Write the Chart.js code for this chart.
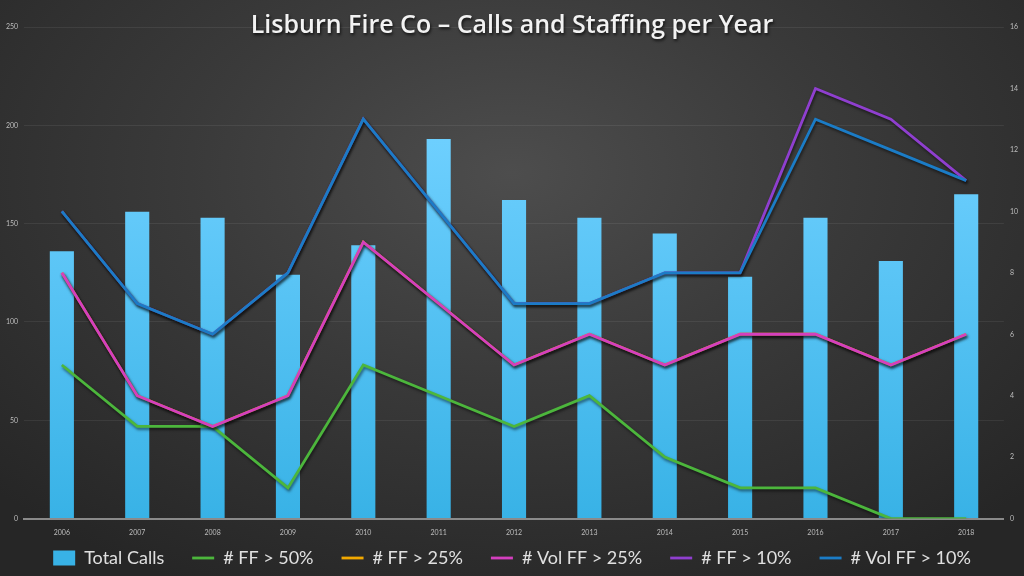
<!DOCTYPE html>
<html>
<head>
<meta charset="utf-8">
<script src="https://cdn.jsdelivr.net/npm/chart.js@4"></script>
<style>
  html, body { margin:0; padding:0; }
  body {
    width:1024px; height:576px; overflow:hidden; position:relative;
    background: radial-gradient(ellipse 70% 80% at 50% 30%, #4d4d4d 0%, #3a3a3a 45%, #262626 100%);
  }
  #title {
    position:absolute; left:0; top:6px; width:1024px; text-align:center;
    font-family:'Open Sans', sans-serif; font-weight:600; font-size:25px; color:#f2f2f2;
    text-shadow: 1px 2px 3px rgba(0,0,0,.7); z-index:2; pointer-events:none;
  }
  #wrap { position:absolute; left:0; top:0; width:1024px; height:576px; }
</style>
</head>
<body>
<div id="title">Lisburn Fire Co – Calls and Staffing per Year</div>
<div id="wrap"><canvas id="c"></canvas></div>
<script>
/* ── data ── */
const YEARS = ['2006','2007','2008','2009','2010','2011','2012','2013','2014','2015','2016','2017','2018'];
const TOTAL_CALLS = [136,156,153,124,139,193,162,153,145,123,153,131,165];
const FF_50     = [5,3,3,1,5,4,3,4,2,1,1,0,0];
const FF_25     = [8,4,3,4,9,7,5,6,5,6,6,5,6];
const VOL_FF_25 = [8,4,3,4,9,7,5,6,5,6,6,5,6];
const FF_10     = [10,7,6,8,13,10,7,7,8,8,14,13,11];
const VOL_FF_10 = [10,7,6,8,13,10,7,7,8,8,13,12,11];
const LEFT_TICKS  = [0,50,100,150,200,250];
const RIGHT_TICKS = [0,2,4,6,8,10,12,14,16];

const LEGEND_PAD = 28;     // horizontal gap between legend items
const LEGEND_BOX_H = 37;   // space the legend takes in the layout
const LEGEND_SHIFT = 18;   // draw legend this much higher than its box

/* ── line shadow ── */
const shadowPlugin = {
  id:'lineShadow',
  beforeDatasetDraw(chart, args) {
    const ctx = chart.ctx;
    ctx.save();
    if (args.meta.type === 'line') {
      ctx.shadowColor = 'rgba(0,0,0,.55)';
      ctx.shadowBlur = 3;
      ctx.shadowOffsetX = 1;
      ctx.shadowOffsetY = 2;
    }
  },
  afterDatasetDraw(chart) { chart.ctx.restore(); }
};

/* ── compact legend: keep wide item gaps but small vertical footprint ── */
const legendFit = {
  id:'legendFit',
  beforeInit(chart) {
    const lg = chart.legend;
    const orig = lg.fit;
    lg.fit = function() { orig.call(this); this.height = LEGEND_BOX_H; };
  },
  afterLayout(chart) { chart.legend.top -= LEGEND_SHIFT; }
};

function barGrad(context) {
  const { chart } = context;
  const a = chart.chartArea;
  if (!a) return '#4fc3f7';
  const g = chart.ctx.createLinearGradient(0, a.top + 100, 0, a.bottom);
  g.addColorStop(0, '#6fd0ff');
  g.addColorStop(1, '#38b2e6');
  return g;
}

const lineDs = (label, data, color, order) => ({
  type:'line', label, data, yAxisID:'y1', borderColor:color, backgroundColor:color,
  borderWidth:2.8, pointRadius:0, tension:0, pointStyle:'line', order
});

const tickFont = { family:'Lato', size:7 };

new Chart(document.getElementById('c'), {
  data:{
    labels: YEARS,
    datasets:[
      { type:'bar', label:'Total Calls', data:TOTAL_CALLS, yAxisID:'y', backgroundColor:barGrad,
        barPercentage:0.32, categoryPercentage:1, pointStyle:'rect', order:10 },
      lineDs('# FF > 50%', FF_50, '#4cb63c', 5),
      lineDs('# FF > 25%', FF_25, '#f2a900', 4),
      lineDs('# Vol FF > 25%', VOL_FF_25, '#d43fbf', 3),
      lineDs('# FF > 10%', FF_10, '#8f3fcf', 2),
      lineDs('# Vol FF > 10%', VOL_FF_10, '#1b7cc6', 1)
    ]
  },
  options:{
    responsive:true, maintainAspectRatio:false, animation:false,
    layout:{ padding:{ top:27, left:0, right:0, bottom:0 } },
    plugins:{
      title:{ display:false },
      tooltip:{ enabled:false },
      legend:{
        position:'bottom',
        labels:{
          sort:(a,b)=>a.datasetIndex-b.datasetIndex,
          usePointStyle:true, pointStyleWidth:22, boxHeight:15,
          color:'#e0e0e0', font:{ family:'Lato', size:18 }, padding:LEGEND_PAD
        }
      }
    },
    scales:{
      x:{
        grid:{ display:false },
        border:{ color:'#8a8a8a', width:2 },
        ticks:{ color:'#bdbdbd', font:tickFont, padding:2 }
      },
      y:{
        position:'left', min:0, max:250,
        afterBuildTicks: ax => { ax.ticks = LEFT_TICKS.map(v=>({value:v})); },
        grid:{ color:'rgba(255,255,255,.07)', drawTicks:false },
        border:{ display:false },
        ticks:{ color:'#bdbdbd', font:tickFont, padding:6 }
      },
      y1:{
        position:'right', min:0, max:16,
        afterBuildTicks: ax => { ax.ticks = RIGHT_TICKS.map(v=>({value:v})); },
        grid:{ display:false, drawTicks:false },
        border:{ display:false },
        ticks:{ color:'#bdbdbd', font:tickFont, padding:6 }
      }
    }
  },
  plugins:[shadowPlugin, legendFit]
});
</script>
</body>
</html>
